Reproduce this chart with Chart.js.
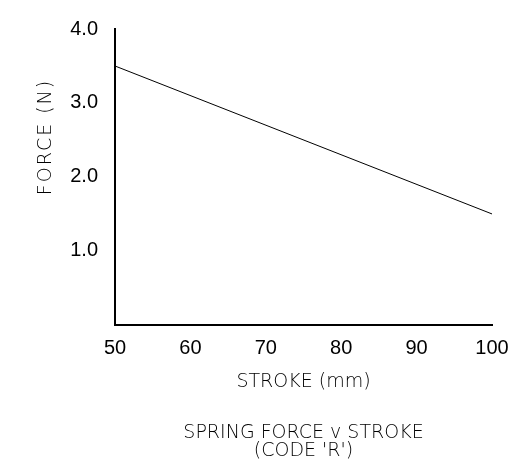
<!DOCTYPE html>
<html>
<head>
<meta charset="utf-8">
<script src="https://cdn.jsdelivr.net/npm/chart.js@4"></script>
<style>
  html, body { margin: 0; padding: 0; background: #fff; }
  #wrap { width: 526px; height: 472px; }
</style>
</head>
<body>
<div id="wrap"><canvas id="forceChart" width="526" height="472"></canvas></div>
<script>
// Spring force v stroke (code 'R')
const strokes = [50, 100];
const forces = [3.5, 1.5];
const xTicks = [50, 60, 70, 80, 90, 100];
const yTicks = [1, 2, 3, 4];

const xTitle = 'STROKE (mm)';
const yTitle = 'FORCE (N)';
const chartTitle = ['SPRING FORCE v STROKE', "(CODE 'R')"];

const titleFont = { family: '"DejaVu Sans", sans-serif', size: 19, weight: 200 };
const tickFont = { family: '"Liberation Sans", Arial, sans-serif', size: 20 };

// y title sits above the middle of the axis, so draw it by hand
const yTitlePlugin = {
    id: 'yTitle',
    afterDraw(chart) {
        const ctx = chart.ctx;
        ctx.save();
        ctx.translate(46, 137);
        ctx.rotate(-Math.PI / 2);
        ctx.font = `${titleFont.weight} ${titleFont.size}px ${titleFont.family}`;
        ctx.letterSpacing = '2px';
        ctx.fillStyle = '#000';
        ctx.textAlign = 'center';
        ctx.textBaseline = 'middle';
        ctx.fillText(yTitle, 0, 0);
        ctx.restore();
    }
};

function renderChart() {
    const ctx = document.getElementById('forceChart');
    new Chart(ctx, {
        type: 'line',
        data: {
            datasets: [{
                data: strokes.map((s, i) => ({ x: s, y: forces[i] })),
                borderColor: '#000',
                borderWidth: 1,
                pointRadius: 0,
                fill: false
            }]
        },
        options: {
            responsive: false,
            animation: false,
            layout: { padding: { top: 23, right: 34, left: 0, bottom: 0 } },
            plugins: {
                legend: { display: false },
                tooltip: { enabled: false },
                title: {
                    display: true,
                    position: 'bottom',
                    fullSize: false,
                    text: chartTitle,
                    color: '#000',
                    font: { ...titleFont, lineHeight: 0.95 },
                    padding: { top: 29, bottom: 12 }
                }
            },
            scales: {
                x: {
                    type: 'linear',
                    min: 50,
                    max: 100,
                    afterBuildTicks: scale => { scale.ticks = xTicks.map(v => ({ value: v })); },
                    afterFit: scale => { scale.height = 70; },
                    grid: { display: false, drawTicks: false },
                    border: { display: true, color: '#000', width: 2 },
                    ticks: {
                        color: '#000',
                        padding: 12,
                        maxRotation: 0,
                        font: tickFont
                    },
                    title: {
                        display: true,
                        text: xTitle,
                        color: '#000',
                        font: titleFont,
                        padding: { top: 0, bottom: 1 }
                    }
                },
                y: {
                    min: 0,
                    max: 4,
                    afterBuildTicks: scale => { scale.ticks = yTicks.map(v => ({ value: v })); },
                    afterFit: scale => { scale.width = 115; },
                    grid: { display: false, drawTicks: false },
                    border: { display: true, color: '#000', width: 2 },
                    ticks: {
                        color: '#000',
                        padding: 17,
                        font: tickFont,
                        callback: v => v.toFixed(1)
                    }
                }
            }
        },
        plugins: [yTitlePlugin]
    });
}

document.addEventListener('DOMContentLoaded', renderChart);
</script>
</body>
</html>
